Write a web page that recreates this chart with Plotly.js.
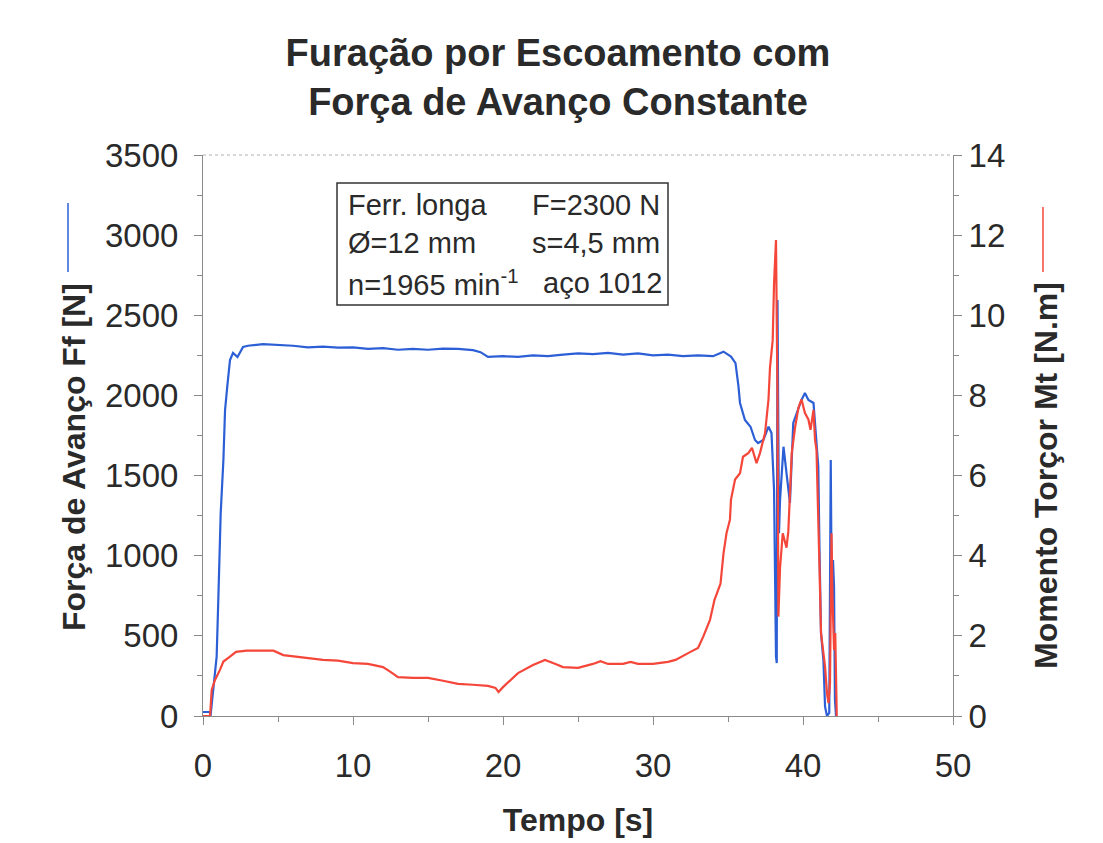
<!DOCTYPE html>
<html>
<head>
<meta charset="utf-8">
<script src="https://cdn.plot.ly/plotly-3.0.1.min.js"></script>
<style>html,body{margin:0;padding:0;background:#fff;}#chart{width:1103px;height:843px;}</style>
</head>
<body>
<div id="chart"></div>
<script>
// Força de avanço Ff [N] vs tempo [s]
const tempoFf = [0, 0.45, 0.5, 0.6, 0.75, 0.91, 1.02, 1.18, 1.36, 1.47, 1.64, 1.8, 2.0, 2.3, 2.67, 3.0, 4.0, 5.0, 6.0, 7.0, 8.0, 9.0, 10.0, 11, 12, 13, 14, 15, 16, 17, 18, 18.5, 19, 20, 21, 22, 23, 24, 25, 26, 27, 28, 29, 30, 31, 32, 33, 34, 34.7, 35.2, 35.5, 35.7, 35.8, 36.13, 36.5, 36.8, 37.0, 37.36, 37.7, 37.9, 38.0, 38.07, 38.2, 38.25, 38.3, 38.35, 38.4, 38.47, 38.7, 38.9, 39.13, 39.35, 39.58, 39.9, 40.13, 40.36, 40.7, 40.87, 41.02, 41.1, 41.2, 41.36, 41.47, 41.6, 41.75, 41.85, 41.9, 42.0, 42.07, 42.13, 42.2];
const forcaFf = [25, 25, 0, 100, 200, 370, 724, 1266, 1597, 1909, 2077, 2221, 2265, 2240, 2302, 2310, 2320, 2315, 2310, 2300, 2305, 2298, 2300, 2290, 2295, 2285, 2290, 2285, 2292, 2290, 2283, 2270, 2240, 2245, 2240, 2250, 2245, 2255, 2262, 2258, 2265, 2255, 2262, 2250, 2255, 2245, 2250, 2245, 2273, 2242, 2202, 2055, 1953, 1847, 1805, 1722, 1703, 1722, 1805, 1765, 1555, 1410, 370, 330, 2595, 1800, 1141, 1348, 1680, 1515, 1329, 1828, 1890, 1972, 2015, 1972, 1953, 1765, 1555, 1036, 518, 349, 58, 0, 19, 1597, 930, 973, 806, 100, 0];

// Momento torçor Mt [N.m] vs tempo [s]
const tempoMt = [0, 0.47, 0.58, 0.8, 1.13, 1.36, 1.8, 2.2, 2.9, 4.7, 5.35, 6.2, 7.1, 8, 9, 10, 11, 12, 12.5, 13, 14, 15, 16, 17, 18, 19, 19.5, 19.7, 20, 20.5, 21, 22, 22.8, 23.5, 24, 25, 26, 26.5, 27, 28, 28.5, 29, 30, 31, 31.5, 32.5, 33, 33.35, 33.8, 34.1, 34.5, 34.7, 34.9, 35.13, 35.2, 35.47, 35.8, 36.0, 36.35, 36.6, 36.9, 37.13, 37.47, 37.7, 37.8, 37.98, 38.07, 38.2, 38.3, 38.36, 38.47, 38.65, 38.8, 38.9, 39.02, 39.13, 39.25, 39.47, 39.7, 39.9, 40.13, 40.36, 40.5, 40.7, 40.8, 40.9, 41.0, 41.1, 41.2, 41.3, 41.47, 41.6, 41.7, 41.8, 41.9, 41.97, 42.07, 42.15, 42.25];
const momentoMt = [0, 0, 0.65, 0.9, 1.15, 1.36, 1.48, 1.6, 1.63, 1.63, 1.52, 1.48, 1.44, 1.4, 1.38, 1.32, 1.3, 1.22, 1.1, 0.97, 0.95, 0.95, 0.88, 0.8, 0.78, 0.75, 0.7, 0.6, 0.72, 0.9, 1.07, 1.27, 1.4, 1.3, 1.22, 1.2, 1.3, 1.37, 1.3, 1.3, 1.35, 1.3, 1.3, 1.35, 1.4, 1.6, 1.7, 1.98, 2.4, 2.9, 3.3, 4.06, 4.56, 4.9, 5.4, 5.9, 6.06, 6.47, 6.56, 6.69, 6.31, 6.56, 7.06, 7.9, 8.7, 9.38, 10.8, 11.88, 7.9, 2.48, 3.7, 4.56, 4.3, 4.2, 4.6, 5.4, 6.56, 7.2, 7.7, 7.9, 7.56, 7.4, 7.14, 7.64, 6.9, 6.64, 5.4, 3.7, 2.07, 1.73, 1.23, 0.57, 0.32, 0.82, 4.56, 2.9, 1.65, 2.07, 0];

const xTicks = [0, 10, 20, 30, 40, 50];
const yTicks = [0, 500, 1000, 1500, 2000, 2500, 3000, 3500];
const y2Ticks = [0, 2, 4, 6, 8, 10, 12, 14];

const tituloLinhas = ["Furação por Escoamento com", "Força de Avanço Constante"];
const infoEsq = ["Ferr. longa", "Ø=12 mm", "n=1965 min<sup>-1</sup>"];
const infoDir = ["F=2300 N", "s=4,5 mm", "aço 1012"];

const BLUE = '#2c5fd6';
const RED = '#f5463a';
const FONT = 'Liberation Sans, Arial, sans-serif';
const TXT = '#2a2a2a';

const traces = [
  {x: tempoFf, y: forcaFf, type: 'scatter', mode: 'lines', name: 'Ff', line: {color: BLUE, width: 2.2}, yaxis: 'y'},
  {x: tempoMt, y: momentoMt, type: 'scatter', mode: 'lines', name: 'Mt', line: {color: RED, width: 2.2}, yaxis: 'y2'}
];

const axisCommon = {
  showgrid: false, zeroline: false, showline: true, linecolor: '#8a8a8a', linewidth: 1,
  ticks: 'outside', ticklen: 8, tickcolor: '#8a8a8a', tickwidth: 1,
  tickfont: {family: FONT, size: 33, color: TXT}
};

const px2x = p => (p - 203) / 750;
const px2y = p => (716 - p) / 561;

const annotations = [];
// axis titles
annotations.push({xref: 'paper', yref: 'paper', x: px2x(74), y: px2y(457), text: '<b>Força de Avanço Ff [N]</b>',
  textangle: -90, showarrow: false, xanchor: 'center', yanchor: 'middle', font: {family: FONT, size: 32, color: TXT}});
annotations.push({xref: 'paper', yref: 'paper', x: px2x(1046), y: px2y(476), text: '<b>Momento Torçor Mt [N.m]</b>',
  textangle: -90, showarrow: false, xanchor: 'center', yanchor: 'middle', font: {family: FONT, size: 32, color: TXT}});
// info box
const rowsY = [205, 243, 283];
const rightX = [530, 530, 541];
for (let i = 0; i < 3; i++) {
  annotations.push({xref: 'paper', yref: 'paper', x: px2x(346), y: px2y(rowsY[i]), text: infoEsq[i], showarrow: false,
    xanchor: 'left', yanchor: 'middle', font: {family: FONT, size: 29, color: TXT}});
  annotations.push({xref: 'paper', yref: 'paper', x: px2x(rightX[i]), y: px2y(rowsY[i]), text: infoDir[i], showarrow: false,
    xanchor: 'left', yanchor: 'middle', font: {family: FONT, size: 29, color: TXT}});
}

const shapes = [
  // dotted top border
  {type: 'line', xref: 'paper', yref: 'paper', x0: 0, x1: 1, y0: 1, y1: 1, line: {color: '#b0b0b0', width: 1, dash: 'dot'}},
  // info box
  {type: 'rect', xref: 'paper', yref: 'paper', x0: px2x(337), x1: px2x(668), y0: px2y(305), y1: px2y(183),
    line: {color: '#333', width: 1.5}, fillcolor: 'rgba(0,0,0,0)'},
  // legend dashes next to axis titles
  {type: 'line', xref: 'paper', yref: 'paper', x0: px2x(68), x1: px2x(68), y0: px2y(203), y1: px2y(272), line: {color: BLUE, width: 1.5}},
  {type: 'line', xref: 'paper', yref: 'paper', x0: px2x(1043), x1: px2x(1043), y0: px2y(207), y1: px2y(272), line: {color: RED, width: 1.5}}
];

const layout = {
  width: 1103, height: 843,
  paper_bgcolor: '#fff', plot_bgcolor: '#fff',
  margin: {l: 203, r: 150, t: 155, b: 127},
  showlegend: false,
  title: {text: '<b>' + tituloLinhas.join('<br>') + '</b>', x: 558 / 1103, xref: 'container', xanchor: 'center',
    y: 1 - 66 / 843, yref: 'container', yanchor: 'middle', font: {family: FONT, size: 38, color: TXT}},
  xaxis: Object.assign({}, axisCommon, {range: [0, 50], tickvals: xTicks, ticktext: xTicks.map(String),
    ticklabelstandoff: 12,
    minor: {dtick: 5, ticks: 'outside', ticklen: 5, tickcolor: '#8a8a8a'},
    title: {text: '<b>Tempo [s]</b>', font: {family: FONT, size: 32, color: TXT}, standoff: 26}}),
  yaxis: Object.assign({}, axisCommon, {range: [0, 3500], tickvals: yTicks, ticktext: yTicks.map(String),
    ticklabelstandoff: 9,
    minor: {dtick: 250, ticks: 'outside', ticklen: 5, tickcolor: '#8a8a8a'}}),
  yaxis2: Object.assign({}, axisCommon, {range: [0, 14], tickvals: y2Ticks, ticktext: y2Ticks.map(String),
    overlaying: 'y', side: 'right',
    minor: {dtick: 1, ticks: 'outside', ticklen: 5, tickcolor: '#8a8a8a'}}),
  annotations: annotations,
  shapes: shapes
};

Plotly.newPlot('chart', traces, layout, {displayModeBar: false, staticPlot: true});
</script>
</body>
</html>
